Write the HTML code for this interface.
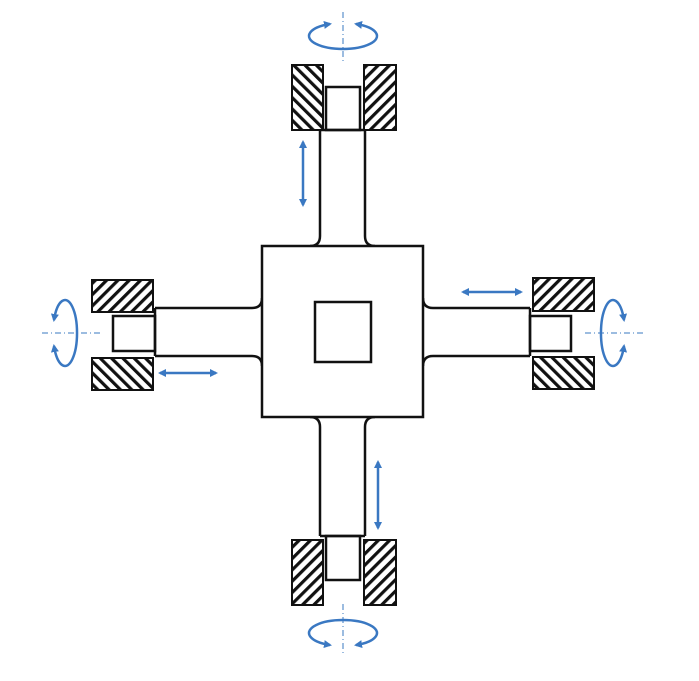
<!DOCTYPE html>
<html><head><meta charset="utf-8"><style>html,body{margin:0;padding:0;background:#fff}svg{display:block}</style></head>
<body>
<svg width="699" height="681" viewBox="0 0 699 681">
<defs>
<pattern id="hf" width="8" height="8" patternUnits="userSpaceOnUse" patternTransform="rotate(45)"><rect width="8" height="8" fill="#fff"/><rect width="3.2" height="8" fill="#111"/></pattern>
<pattern id="hb" width="8" height="8" patternUnits="userSpaceOnUse" patternTransform="rotate(-45)"><rect width="8" height="8" fill="#fff"/><rect width="3.2" height="8" fill="#111"/></pattern>
<marker id="ah" markerWidth="8" markerHeight="8" refX="6" refY="4" orient="auto-start-reverse" markerUnits="userSpaceOnUse"><path d="M0,0 L8,4 L0,8 Z" fill="#3a78c2"/></marker>
</defs>
<g fill="none" stroke="#111" stroke-width="2.5">
<path d="M320,130 V236 Q320,246 310,246 M365,130 V236 Q365,246 375,246"/>
<path d="M320,536 V427 Q320,417 310,417 M365,536 V427 Q365,417 375,417"/>
<path d="M155,308 H252 Q262,308 262,298 M155,356 H252 Q262,356 262,366"/>
<path d="M530,308 H433 Q423,308 423,298 M530,356 H433 Q423,356 423,366"/>
<line x1="320" y1="130" x2="365" y2="130"/><line x1="320" y1="536" x2="365" y2="536"/>
<line x1="155" y1="308" x2="155" y2="356"/><line x1="530" y1="308" x2="530" y2="356"/>
<rect x="262" y="246" width="161" height="171" fill="#fff"/>
<rect x="315" y="302" width="56" height="60"/>
<rect x="326" y="87" width="34" height="43"/>
<rect x="326" y="536" width="34" height="44"/>
<rect x="113" y="316" width="42" height="35"/>
<rect x="530" y="316" width="41" height="35"/>
</g>
<g stroke="#111" stroke-width="2">
<rect x="292" y="65" width="31" height="65" fill="url(#hb)"/>
<rect x="364" y="65" width="32" height="65" fill="url(#hf)"/>
<rect x="292" y="540" width="31" height="65" fill="url(#hf)"/>
<rect x="364" y="540" width="32" height="65" fill="url(#hf)"/>
<rect x="92" y="280" width="61" height="32" fill="url(#hf)"/>
<rect x="92" y="358" width="61" height="32" fill="url(#hb)"/>
<rect x="533" y="278" width="61" height="33" fill="url(#hf)"/>
<rect x="533" y="357" width="61" height="32" fill="url(#hb)"/>
</g>
<g stroke="#3a78c2" stroke-width="1" stroke-dasharray="6,3,1,3" fill="none">
<line x1="343" y1="12" x2="343" y2="62"/>
<line x1="343" y1="604" x2="343" y2="655"/>
<line x1="42" y1="333" x2="102" y2="333"/>
<line x1="585" y1="333" x2="645" y2="333"/>
</g>
<g stroke="#3a78c2" stroke-width="2.5" fill="none">
<line x1="303" y1="142" x2="303" y2="205" marker-start="url(#ah)" marker-end="url(#ah)"/>
<line x1="378" y1="462" x2="378" y2="528" marker-start="url(#ah)" marker-end="url(#ah)"/>
<line x1="160" y1="373" x2="216" y2="373" marker-start="url(#ah)" marker-end="url(#ah)"/>
<line x1="463" y1="292" x2="521" y2="292" marker-start="url(#ah)" marker-end="url(#ah)"/>
<path d="M330,24 A34,13 0 1 0 356,24" marker-start="url(#ah)" marker-end="url(#ah)"/>
<path d="M330,645 A34,13 0 1 1 356,645" marker-start="url(#ah)" marker-end="url(#ah)"/>
<path d="M54,320 A12,33 0 1 1 54,346" marker-start="url(#ah)" marker-end="url(#ah)"/>
<path d="M624,320 A12,33 0 1 0 624,346" marker-start="url(#ah)" marker-end="url(#ah)"/>
</g>
</svg>
</body></html>
